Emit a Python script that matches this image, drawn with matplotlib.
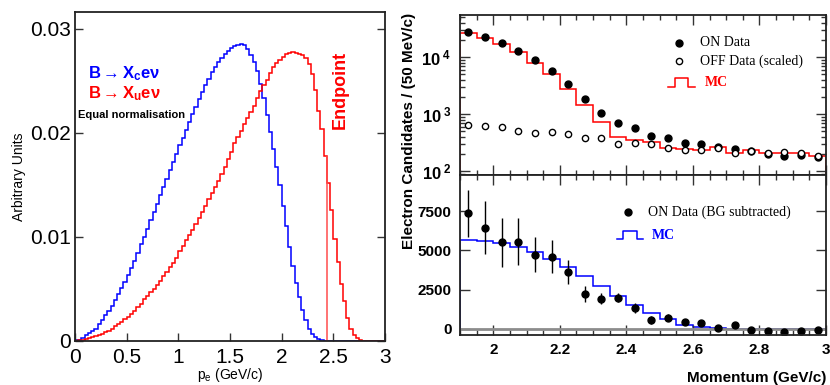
import numpy as np
import matplotlib
matplotlib.use('Agg')
import matplotlib.pyplot as plt
from matplotlib.ticker import FixedLocator, FixedFormatter, MultipleLocator, NullFormatter

plt.rcParams['font.family'] = ['Liberation Sans', 'DejaVu Sans']
plt.rcParams['mathtext.fontset'] = 'custom'
plt.rcParams['mathtext.rm'] = 'Liberation Sans'
plt.rcParams['mathtext.bf'] = 'Liberation Sans:bold'
plt.rcParams['mathtext.it'] = 'Liberation Sans:italic'

# ---------------- left panel data ----------------
pe_edges = np.linspace(0.0, 3.0, 97)
b_xc = [0.00005, 0.0001, 0.0003, 0.0006, 0.0008, 0.0010, 0.0012, 0.0016, 0.0020, 0.0025,
        0.0029, 0.0034, 0.0039, 0.0045, 0.0051, 0.0057, 0.0063, 0.0070, 0.0077, 0.0085,
        0.0093, 0.0100, 0.0108, 0.0116, 0.0124, 0.0132, 0.0140, 0.0148, 0.0156, 0.0164,
        0.0172, 0.0180, 0.0188, 0.0195, 0.0203, 0.0210, 0.0218, 0.0225, 0.0232, 0.0239,
        0.0246, 0.0252, 0.0258, 0.0263, 0.0268, 0.0272, 0.0276, 0.0279, 0.0281, 0.0283,
        0.0284, 0.0285, 0.0284, 0.0280, 0.0275, 0.0268, 0.0259, 0.0247, 0.0233, 0.0217,
        0.0201, 0.0184, 0.0167, 0.0150, 0.0130, 0.0110, 0.0090, 0.0072, 0.0056, 0.0042,
        0.0030, 0.0020, 0.0012, 0.0007, 0.0004, 0.0002, 0.0001, 0.00003,
        0, 0, 0, 0, 0, 0, 0, 0, 0, 0, 0, 0, 0, 0, 0, 0, 0, 0]
b_xu = [0.00002, 0.00005, 0.0001, 0.0002, 0.0003, 0.0004, 0.0005, 0.0006, 0.0007, 0.0009,
        0.0010, 0.0012, 0.0014, 0.0016, 0.0018, 0.0021, 0.0023, 0.0026, 0.0029, 0.0033,
        0.0036, 0.0040, 0.0043, 0.0047, 0.0050, 0.0054, 0.0058, 0.0062, 0.0066, 0.0071,
        0.0075, 0.0080, 0.0086, 0.0091, 0.0097, 0.0102, 0.0107, 0.0112, 0.0118, 0.0124,
        0.0130, 0.0136, 0.0142, 0.0148, 0.0154, 0.0160, 0.0167, 0.0175, 0.0182, 0.0190,
        0.0196, 0.0202, 0.0208, 0.0214, 0.0220, 0.0226, 0.0233, 0.0240, 0.0246, 0.0251,
        0.0257, 0.0263, 0.0267, 0.0270, 0.0273, 0.0276, 0.0277, 0.0278, 0.0277, 0.0276,
        0.0275, 0.0272, 0.0266, 0.0256, 0.0241, 0.0221, 0.0204, 0.0178, 0.0152, 0.0126,
        0.0098, 0.0076, 0.0055, 0.0038, 0.0022, 0.0012, 0.0006, 0.0003, 0.0001, 0,
        0, 0, 0, 0, 0, 0]
endpoint = 2.4375
left_xticks = [0, 0.5, 1, 1.5, 2, 2.5, 3]
left_xlabels = ['0', '0.5', '1', '1.5', '2', '2.5', '3']
left_yticks = [0, 0.01, 0.02, 0.03]
left_ylabels = ['0', '0.01', '0.02', '0.03']

# ---------------- right panels data ----------------
mom_edges = np.linspace(1.9, 3.0, 23)
mom_centers = 0.5 * (mom_edges[:-1] + mom_edges[1:])
on_data = [27500, 22700, 18100, 13100, 8860, 5750, 3450, 1830, 1040, 705, 575,
           411, 379, 318, 302, 271, 243, 231, 201, 186, 191, 178]
off_data = [659, 624, 608, 510, 464, 490, 446, 390, 385, 302, 314,
            306, 260, 237, 237, 260, 207, 231, 212, 215, 212, 183]
mc_top = [26400, 21500, 16900, 12200, 8060, 5030, 2820, 1440, 724, 400, 355,
          323, 260, 247, 240, 267, 207, 240, 210, 207, 207, 188]
on_sub = [7353, 6436, 5520, 5563, 4731, 4604, 3623, 2217, 1918, 1982, 1343,
          575, 725, 426, 405, 64, 256, -85, -128, -213, -128, -85]
on_sub_err = [1470, 1680, 1550, 1470, 1100, 1030, 750, 490, 340, 290, 300,
              250, 250, 200, 180, 150, 130, 120, 100, 100, 90, 90]
mc_bottom = [5690, 5627, 5477, 5243, 4902, 4454, 3964, 3367, 2728, 2110, 1535,
             1002, 639, 277, 149, 64, 21, 8, 4, 0, 0, 0]
right_xticks = [2.0, 2.2, 2.4, 2.6, 2.8, 3.0]
right_xlabels = ['2', '2.2', '2.4', '2.6', '2.8', '3']
bot_yticks = [0, 2500, 5000, 7500]
bot_ylabels = ['0', '2500', '5000', '7500']

RED = '#ff0000'
BLUE = '#0000ff'
W, H = 830.0, 385.0

fig = plt.figure(figsize=(8.3, 3.85), dpi=100)

# ---------------- left panel ----------------
ax1 = fig.add_axes([75 / W, 1 - 341 / H, 310 / W, 329 / H])
ax1.stairs(b_xc, pe_edges, color=BLUE, lw=1.1, baseline=0)
ax1.stairs(b_xu, pe_edges, color=RED, lw=1.1, baseline=0)
iend = int(np.searchsorted(pe_edges, endpoint)) - 1
ax1.vlines(endpoint, 0, b_xu[iend], color='#ff4d4d', lw=1.1)
ax1.set_xlim(0, 3)
ax1.set_ylim(0, 0.0316)
ax1.xaxis.set_major_locator(FixedLocator(left_xticks))
ax1.xaxis.set_major_formatter(FixedFormatter(left_xlabels))
ax1.yaxis.set_major_locator(FixedLocator(left_yticks))
ax1.yaxis.set_major_formatter(FixedFormatter(left_ylabels))
ax1.tick_params(axis='both', direction='in', length=6, width=1, labelsize=15,
                right=True, top=False, color='#333333')
ax1.tick_params(axis='y', pad=3)
ax1.tick_params(axis='x', pad=5)
for s in ax1.spines.values():
    s.set_linewidth(1.3)
    s.set_color('#222222')

ax1.text(0.13, 0.0257, r'B$\mathbf{\rightarrow}$X$_\mathbf{c}$eν', color=BLUE, fontsize=12,
         fontweight='bold', va='center', ha='left')
ax1.text(0.13, 0.0238, r'B$\mathbf{\rightarrow}$X$_\mathbf{u}$eν', color=RED, fontsize=12,
         fontweight='bold', va='center', ha='left')
ax1.text(0.03, 0.0217, 'Equal normalisation', color='black', fontsize=8,
         fontweight='bold', va='center', ha='left')
ax1.text(2.57, 0.0241, 'Endpoint', color=RED, fontsize=13, fontweight='bold',
         rotation=90, ha='center', va='center')

fig.text(19 / W, 1 - 177 / H, 'Arbitrary Units', rotation=90, fontsize=10,
         ha='center', va='center')
fig.text(230 / W, 1 / H, r'p$_\mathrm{e}$ (GeV/c)', fontsize=10,
         ha='center', va='bottom')

# ---------------- right top panel ----------------
ax2 = fig.add_axes([460 / W, 1 - 175 / H, 366 / W, 160 / H])
ax2.set_yscale('log')
ax2.stairs(mc_top, mom_edges, color=RED, lw=1.1, baseline=1)
ax2.plot(mom_centers, on_data, 'o', color='black', ms=5, ls='none')
ax2.plot(mom_centers, off_data, 'o', mfc='white', mec='black', mew=1.0,
         ms=4.5, ls='none')
ax2.set_xlim(1.9, 3.0)
ax2.set_ylim(86, 55000)
ax2.yaxis.set_major_locator(FixedLocator([100, 1000, 10000]))
ax2.yaxis.set_major_formatter(FixedFormatter([r'$\mathbf{10}^{\ \mathbf{2}}$',
                                              r'$\mathbf{10}^{\ \mathbf{3}}$',
                                              r'$\mathbf{10}^{\ \mathbf{4}}$']))
minor_log = [m * 10 ** e for e in (1, 2, 3, 4) for m in range(2, 10)]
ax2.yaxis.set_minor_locator(FixedLocator(minor_log))
ax2.yaxis.set_minor_formatter(NullFormatter())
ax2.xaxis.set_major_locator(FixedLocator(right_xticks))
ax2.xaxis.set_minor_locator(MultipleLocator(0.05))
ax2.xaxis.set_major_formatter(NullFormatter())
ax2.tick_params(which='both', direction='in', top=True, right=True, width=1,
                color='#333333')
ax2.tick_params(which='major', length=7, labelsize=12, pad=6)
ax2.tick_params(which='minor', length=3.5)
for s in ax2.spines.values():
    s.set_linewidth(1.3)
    s.set_color('#222222')

serif = ['Liberation Serif', 'DejaVu Serif']
ax2.plot([0.598], [0.825], 'o', color='black', ms=5, transform=ax2.transAxes)
ax2.text(0.656, 0.825, 'ON Data', family=serif, fontsize=10, va='center',
         transform=ax2.transAxes)
ax2.plot([0.598], [0.7125], 'o', mfc='white', mec='black', mew=1.0, ms=4.5,
         transform=ax2.transAxes)
ax2.text(0.656, 0.7125, 'OFF Data (scaled)', family=serif, fontsize=10,
         va='center', transform=ax2.transAxes)
ax2.plot([0.569, 0.5874, 0.5874, 0.6238, 0.6238, 0.6429],
         [0.548, 0.548, 0.604, 0.604, 0.548, 0.548], color=RED, lw=1.1,
         transform=ax2.transAxes)
ax2.text(0.669, 0.575, 'MC', family=serif, fontsize=10, fontweight='bold',
         color=RED, va='center', transform=ax2.transAxes)

# ---------------- right bottom panel ----------------
ax3 = fig.add_axes([460 / W, 1 - 335 / H, 366 / W, 160 / H])
ax3.axhline(0, color='#8c8c8c', lw=2)
ax3.stairs(mc_bottom, mom_edges, color=BLUE, lw=1.1, baseline=0)
ax3.errorbar(mom_centers, on_sub, yerr=on_sub_err, fmt='o', color='black',
             ms=5, elinewidth=1.0, capsize=0)
ax3.set_xlim(1.9, 3.0)
ax3.set_ylim(-385, 9800)
ax3.xaxis.set_major_locator(FixedLocator(right_xticks))
ax3.xaxis.set_major_formatter(FixedFormatter(right_xlabels))
ax3.xaxis.set_minor_locator(MultipleLocator(0.05))
ax3.yaxis.set_major_locator(FixedLocator(bot_yticks))
ax3.yaxis.set_major_formatter(FixedFormatter(bot_ylabels))
ax3.tick_params(which='both', direction='in', top=True, right=True, width=1,
                color='#333333')
ax3.tick_params(which='major', length=7, labelsize=11)
ax3.tick_params(which='minor', length=3.5)
ax3.tick_params(axis='x', pad=6)
ax3.tick_params(axis='y', pad=6)
for lab in ax3.get_xticklabels() + ax3.get_yticklabels():
    lab.set_fontweight('bold')
for s in ax3.spines.values():
    s.set_linewidth(1.3)
    s.set_color('#222222')

ax3.plot([0.459], [0.769], 'o', color='black', ms=5, transform=ax3.transAxes)
ax3.text(0.514, 0.769, 'ON Data (BG subtracted)', family=serif, fontsize=10,
         va='center', transform=ax3.transAxes)
ax3.plot([0.4281, 0.4445, 0.4445, 0.4828, 0.4828, 0.4992],
         [0.598, 0.598, 0.652, 0.652, 0.598, 0.598], color=BLUE, lw=1.1,
         transform=ax3.transAxes)
ax3.text(0.524, 0.62, 'MC', family=serif, fontsize=10, fontweight='bold',
         color=BLUE, va='center', transform=ax3.transAxes)

fig.text(409 / W, 1 - 131 / H, 'Electron Candidates / (50 MeV/c)', rotation=90,
         fontsize=11, fontweight='bold', ha='center', va='center')
fig.text(826 / W, 1 - 382 / H, 'Momentum (GeV/c)', fontsize=11,
         fontweight='bold', ha='right', va='baseline')

fig.savefig('out.png', dpi=100)
